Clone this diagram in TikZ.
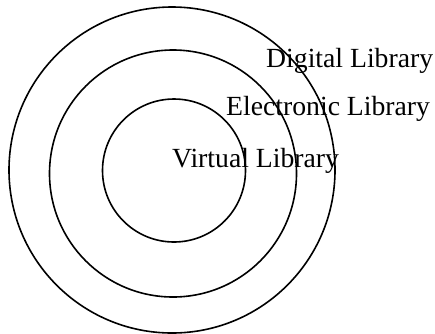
\documentclass[tikz,border=0pt]{standalone}
\usepackage{fontspec}
\setmainfont{Liberation Serif}
\begin{document}
\begin{tikzpicture}[x=1pt,y=-1pt,
  ring/.style={draw=black,line width=1.6pt},
  lbl/.style={anchor=base west,inner sep=0pt,font=\fontsize{27.7}{30}\selectfont}]
\useasboundingbox (0,0) rectangle (435,333);
\draw[ring] (172,170) circle[radius=163];
\draw[ring] (173,173.5) circle[radius=123.5];
\draw[ring] (174,170.5) circle[radius=71.5];
\node[lbl] (dl) at (266,67.5) {Digital Library};
\node[lbl] (el) at (226,115) {Electronic Library};
\node[lbl] (vl) at (172,167.7) {Virtual Library};
\end{tikzpicture}
\end{document}
